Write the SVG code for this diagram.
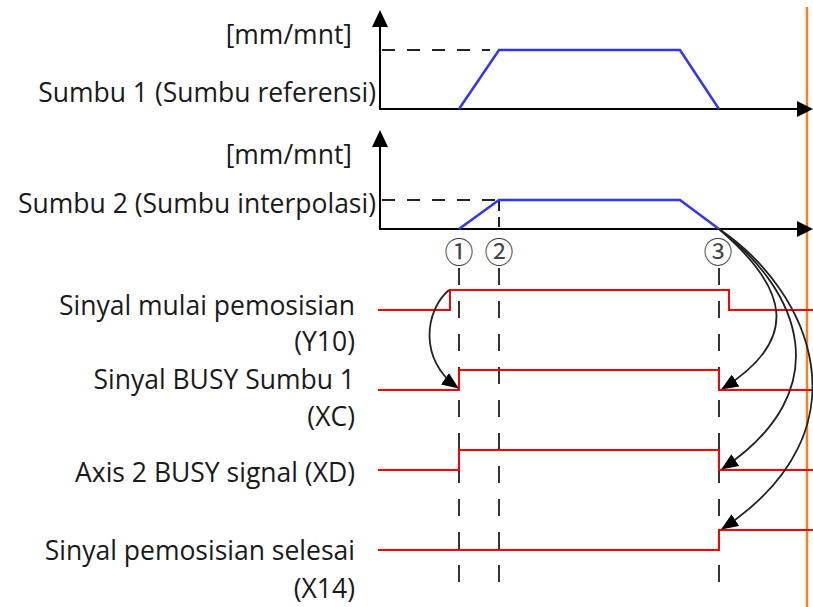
<svg xmlns="http://www.w3.org/2000/svg" width="813" height="607" viewBox="0 0 813 607">
<style>
  .lbl{font-family:"Open Sans","Noto Sans","Liberation Sans",sans-serif;font-size:26.5px;fill:#1a1a1a;text-anchor:end}
  .num{font-family:"Noto Sans CJK JP","DejaVu Sans",sans-serif;font-size:29px;fill:#444;text-anchor:middle}
  .axis{stroke:#000;stroke-width:2;fill:none}
  .ah{fill:#000}
  .prof{stroke:#3333ff;stroke-width:2.5;fill:none;stroke-linejoin:miter}
  .hd{stroke:#222;stroke-width:2;fill:none;stroke-dasharray:13 12}
  .vd{stroke:#333;stroke-width:2;fill:none;stroke-dasharray:17 16}
  .sig{stroke:#ff0000;stroke-width:2;fill:none}
  .arr{stroke:#222;stroke-width:1.8;fill:none;marker-end:url(#head)}
</style>
<defs>
  <marker id="head" markerWidth="18" markerHeight="14" refX="16" refY="7" orient="auto" markerUnits="userSpaceOnUse">
    <path d="M0,0 L17,7 L0,14 Z" fill="#000"/>
  </marker>
</defs>

<!-- orange boundary -->
<line x1="807" y1="7" x2="807" y2="607" stroke="#f58220" stroke-width="2.5"/>

<g id="chart1">
  <path class="hd" d="M382,50 H490"/>
  <path class="axis" d="M380,24 V109 H800"/>
  <path class="ah" d="M380,10 L372,27 L388,27 Z"/>
  <path class="ah" d="M813,109 L797,101 L797,117 Z"/>
  <path class="prof" d="M459,109 L499,50 L680,50 L719,109"/>
  <text class="lbl" x="352" y="44">[mm/mnt]</text>
  <text class="lbl" x="376" y="102">Sumbu 1 (Sumbu referensi)</text>
</g>

<g id="chart2">
  <path class="hd" d="M382,200 H497"/>
  <path class="hd" d="M499,201 V229" style="stroke-dasharray:10 6"/>
  <path class="axis" d="M380,144 V229 H800"/>
  <path class="ah" d="M380,130 L372,147 L388,147 Z"/>
  <path class="ah" d="M813,229 L797,221 L797,237 Z"/>
  <path class="prof" d="M459,229 L499,200 L680,200 L719,229"/>
  <text class="lbl" x="352" y="164">[mm/mnt]</text>
  <text class="lbl" x="376" y="213">Sumbu 2 (Sumbu interpolasi)</text>
</g>

<g id="markers">
  <text class="num" x="459" y="263">①</text>
  <text class="num" x="499" y="263">②</text>
  <text class="num" x="718" y="263">③</text>
  <path class="vd" d="M459,268 V596"/>
  <path class="vd" d="M499,268 V596"/>
  <path class="vd" d="M719,268 V596"/>
</g>

<g id="sig-y10">
  <path class="sig" d="M378,310 H450 V290 H729 V310 H813"/>
  <text class="lbl" x="355" y="315">Sinyal mulai pemosisian</text>
  <text class="lbl" x="355" y="351">(Y10)</text>
</g>
<g id="sig-xc">
  <path class="sig" d="M378,390 H459 V370 H719 V390 H813"/>
  <text class="lbl" x="355" y="389">Sinyal BUSY Sumbu 1</text>
  <text class="lbl" x="355" y="426">(XC)</text>
</g>
<g id="sig-xd">
  <path class="sig" d="M378,470 H459 V450 H719 V470 H813"/>
  <text class="lbl" x="355" y="482">Axis 2 BUSY signal (XD)</text>
</g>
<g id="sig-x14">
  <path class="sig" d="M378,550 H719 V530 H813"/>
  <text class="lbl" x="355" y="560">Sinyal pemosisian selesai</text>
  <text class="lbl" x="355" y="598">(X14)</text>
</g>

<g id="connectors">
  <path class="arr" d="M449,290 C425,310 418,360 458,388"/>
  <path class="arr" d="M719,229 C790,290 800,340 722,389"/>
  <path class="arr" d="M719,229 C800,290 840,390 722,469"/>
  <path class="arr" d="M719,229 C810,290 872,430 722,529"/>
</g>
</svg>
